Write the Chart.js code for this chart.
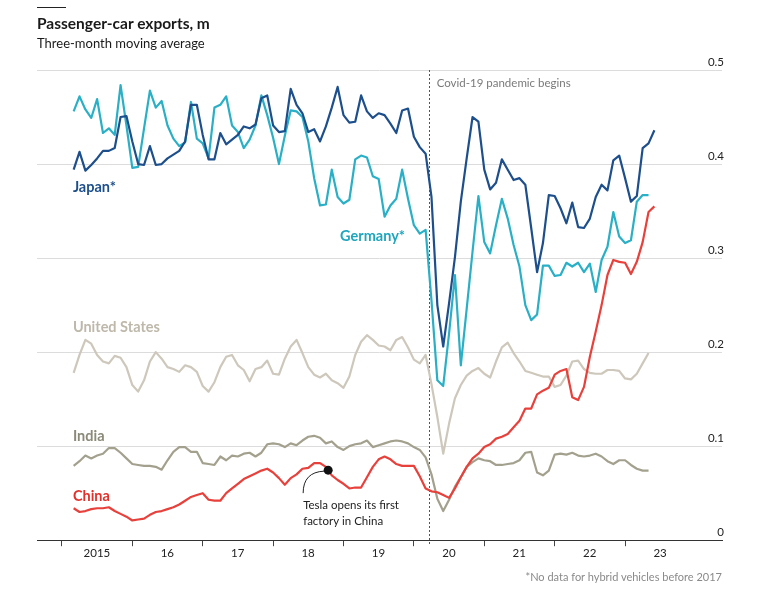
<!DOCTYPE html>
<html>
<head>
<meta charset="utf-8">
<script src="https://cdn.jsdelivr.net/npm/chart.js@4.4.0/dist/chart.umd.min.js"></script>
<style>
  body { margin: 0; background: #fff; }
  #wrap { position: relative; width: 765px; height: 599px; font-family: Lato, sans-serif; color: #1a1a1a; }
  #chart { position: absolute; left: 0; top: 0; }
  .rule { position: absolute; left: 37px; top: 7px; width: 29px; height: 1px; background: #222; }
  .title { position: absolute; left: 37px; top: 16px; font-size: 15.5px; font-weight: 700; line-height: 1; }
  .sub { position: absolute; left: 37px; top: 37px; font-size: 13px; line-height: 1; }
  .note { position: absolute; right: 43px; top: 571px; font-size: 11px; line-height: 1; color: #8a8a8a; }
</style>
</head>
<body>
<div id="wrap">
  <canvas id="chart" width="765" height="599" style="width:765px;height:599px"></canvas>
  <div class="rule"></div>
  <div class="title">Passenger-car exports, m</div>
  <div class="sub">Three-month moving average</div>
  <div class="note">*No data for hybrid vehicles before 2017</div>
</div>
<script>
// monthly points, first one is March 2015
const firstYear = 2015;
const firstMonth = 3;
const yearTicks = [2015, 2016, 2017, 2018, 2019, 2020, 2021, 2022, 2023];

const japan = [0.394,0.413,0.393,0.399,0.406,0.414,0.414,0.417,0.450,0.451,
  0.424,0.400,0.399,0.419,0.399,0.400,0.406,0.410,0.414,0.424,
  0.463,0.463,0.431,0.405,0.405,0.433,0.421,0.426,0.431,0.440,
  0.438,0.442,0.470,0.473,0.441,0.434,0.435,0.480,0.463,0.454,
  0.434,0.437,0.424,0.440,0.460,0.482,0.452,0.444,0.445,0.473,
  0.456,0.449,0.454,0.452,0.443,0.433,0.457,0.459,0.429,0.418,
  0.411,0.365,0.250,0.206,0.252,0.301,0.360,0.406,0.450,0.445,
  0.394,0.373,0.380,0.405,0.394,0.383,0.385,0.378,0.332,0.285,
  0.316,0.367,0.366,0.353,0.337,0.359,0.333,0.332,0.342,0.365,
  0.378,0.372,0.404,0.409,0.385,0.360,0.366,0.417,0.422,0.436];

const germany = [0.456,0.472,0.458,0.449,0.469,0.433,0.438,0.431,0.484,0.441,
  0.396,0.397,0.438,0.478,0.460,0.467,0.441,0.427,0.419,0.423,
  0.466,0.427,0.422,0.406,0.460,0.463,0.472,0.441,0.434,0.417,
  0.426,0.441,0.473,0.452,0.428,0.400,0.430,0.457,0.456,0.450,
  0.424,0.385,0.356,0.357,0.394,0.365,0.358,0.362,0.405,0.409,
  0.407,0.387,0.384,0.344,0.356,0.363,0.394,0.363,0.335,0.326,
  0.330,0.255,0.170,0.164,0.220,0.282,0.186,0.246,0.307,0.366,
  0.317,0.305,0.335,0.363,0.342,0.314,0.291,0.250,0.234,0.240,
  0.292,0.292,0.281,0.282,0.295,0.291,0.295,0.285,0.294,0.264,
  0.298,0.312,0.349,0.323,0.316,0.319,0.360,0.367,0.367];

const unitedStates = [0.178,0.197,0.213,0.209,0.197,0.190,0.188,0.196,0.194,0.184,
  0.165,0.158,0.170,0.190,0.200,0.193,0.184,0.182,0.179,0.186,
  0.184,0.179,0.164,0.158,0.168,0.184,0.195,0.197,0.186,0.181,
  0.169,0.182,0.184,0.191,0.177,0.176,0.193,0.206,0.213,0.199,
  0.184,0.176,0.173,0.177,0.170,0.167,0.162,0.174,0.197,0.211,
  0.218,0.213,0.207,0.206,0.202,0.213,0.216,0.205,0.192,0.188,
  0.197,0.166,0.131,0.092,0.124,0.151,0.165,0.175,0.180,0.183,
  0.177,0.173,0.190,0.205,0.210,0.199,0.190,0.180,0.178,0.176,
  0.174,0.174,0.163,0.165,0.175,0.190,0.191,0.182,0.178,0.177,
  0.177,0.181,0.181,0.180,0.172,0.171,0.177,0.188,0.199];

const india = [0.079,0.084,0.090,0.087,0.090,0.092,0.098,0.098,0.093,0.087,
  0.081,0.080,0.079,0.079,0.078,0.075,0.085,0.094,0.099,0.099,
  0.094,0.094,0.082,0.081,0.080,0.089,0.085,0.090,0.089,0.092,
  0.093,0.089,0.093,0.102,0.103,0.102,0.099,0.103,0.101,0.106,
  0.110,0.111,0.109,0.103,0.105,0.099,0.096,0.100,0.102,0.103,
  0.106,0.099,0.101,0.103,0.105,0.106,0.105,0.103,0.099,0.096,
  0.088,0.070,0.044,0.031,0.043,0.057,0.067,0.078,0.083,0.087,
  0.085,0.084,0.080,0.080,0.081,0.082,0.085,0.093,0.094,0.072,
  0.069,0.074,0.091,0.092,0.091,0.093,0.090,0.089,0.090,0.092,
  0.089,0.084,0.081,0.085,0.085,0.080,0.076,0.074,0.074];

const china = [0.034,0.030,0.031,0.033,0.034,0.034,0.035,0.031,0.028,0.025,
  0.021,0.022,0.023,0.027,0.030,0.031,0.033,0.035,0.038,0.042,
  0.046,0.048,0.050,0.043,0.042,0.042,0.050,0.055,0.060,0.065,
  0.068,0.071,0.074,0.076,0.072,0.066,0.059,0.066,0.070,0.076,
  0.077,0.082,0.082,0.078,0.069,0.064,0.060,0.055,0.056,0.056,
  0.067,0.078,0.086,0.089,0.086,0.081,0.079,0.079,0.079,0.068,
  0.055,0.052,0.051,0.048,0.045,0.055,0.067,0.078,0.087,0.092,
  0.099,0.102,0.108,0.110,0.113,0.120,0.127,0.140,0.140,0.155,
  0.159,0.162,0.176,0.180,0.182,0.152,0.149,0.163,0.195,0.222,
  0.250,0.282,0.298,0.296,0.295,0.283,0.296,0.317,0.349,0.355];

// events
const covidStart = 2020.21;
const teslaPoint = { x: 2018.782, y: 0.0745 };

const monthX = i => firstYear + (firstMonth - 1 + i) / 12;
const toPoints = vals => vals.map((v, i) => ({ x: monthX(i), y: v }));

const font = 'Lato, sans-serif';

function line(label, vals, color) {
  return {
    label: label,
    data: toPoints(vals),
    borderColor: color,
    borderWidth: 2.2,
    pointRadius: 0,
    borderJoinStyle: 'round',
    tension: 0,
    fill: false
  };
}

// text labels, placed in data units
const seriesLabels = [
  { text: 'Japan*', x: 2015.156, y: 0.3755, color: '#1d4f8c' },
  { text: 'Germany*', x: 2018.952, y: 0.3234, color: '#1ea6bf' },
  { text: 'United States', x: 2015.156, y: 0.2266, color: '#bdb8aa' },
  { text: 'India', x: 2015.156, y: 0.1106, color: '#8b8978' },
  { text: 'China', x: 2015.156, y: 0.0468, color: '#e3302b' }
];

const notes = {
  id: 'notes',
  beforeDatasetsDraw(chart) {
    const { ctx, chartArea, scales } = chart;
    const cx = Math.round(scales.x.getPixelForValue(covidStart)) + 0.5;
    ctx.save();
    ctx.strokeStyle = '#555';
    ctx.lineWidth = 1;
    ctx.setLineDash([2, 2]);
    ctx.beginPath();
    ctx.moveTo(cx, chartArea.top);
    ctx.lineTo(cx, chartArea.bottom + 5);
    ctx.stroke();
    ctx.restore();
  },
  afterDatasetsDraw(chart) {
    const { ctx, scales } = chart;
    const px = v => scales.x.getPixelForValue(v);
    const py = v => scales.y.getPixelForValue(v);
    ctx.save();
    ctx.textBaseline = 'middle';
    ctx.textAlign = 'left';
    ctx.font = '700 14.5px ' + font;
    seriesLabels.forEach(l => {
      ctx.fillStyle = l.color;
      ctx.fillText(l.text, px(l.x), py(l.y));
    });

    ctx.font = '11.5px ' + font;
    ctx.fillStyle = '#7a7a7a';
    ctx.fillText('Covid-19 pandemic begins', px(covidStart) + 8, py(0.4862));

    // Tesla leader line
    const dx = px(teslaPoint.x), dy = py(teslaPoint.y);
    ctx.strokeStyle = '#222';
    ctx.lineWidth = 1;
    ctx.beginPath();
    ctx.moveTo(dx - 4, dy + 1);
    ctx.quadraticCurveTo(dx - 25, dy + 2, dx - 25, dy + 23);
    ctx.stroke();

    ctx.fillStyle = '#222';
    ctx.fillText('Tesla opens its first', dx - 25, dy + 35);
    ctx.fillText('factory in China', dx - 25, dy + 51);
    ctx.restore();
  }
};

new Chart(document.getElementById('chart'), {
  type: 'line',
  data: {
    datasets: [
      {
        label: 'Tesla',
        data: [teslaPoint],
        showLine: false,
        pointRadius: 4.5,
        pointBackgroundColor: '#111',
        pointBorderColor: '#111',
        pointBorderWidth: 0
      },
      line('China', china, '#e8403b'),
      line('Japan', japan, '#1d4f8c'),
      line('Germany', germany, '#2ab0c6'),
      line('India', india, '#a3a18e'),
      line('United States', unitedStates, '#cdc8bb')
    ]
  },
  options: {
    responsive: false,
    animation: false,
    layout: { padding: { left: 37, right: 39, top: 70, bottom: 39 } },
    plugins: { legend: { display: false }, tooltip: { enabled: false } },
    scales: {
      x: {
        type: 'linear',
        min: 2014.646,
        max: 2024.377,
        afterBuildTicks: s => { s.ticks = yearTicks.map(v => ({ value: v })); },
        ticks: {
          callback: v => v === 2015 ? '2015' : String(v).slice(2),
          labelOffset: 35,
          padding: 0,
          maxRotation: 0,
          autoSkip: false,
          color: '#222',
          font: { family: font, size: 11.5 }
        },
        grid: { drawOnChartArea: false, drawTicks: true, tickLength: 6, tickColor: '#444' },
        border: { color: '#333', width: 1 }
      },
      y: {
        position: 'right',
        min: 0,
        max: 0.5,
        ticks: {
          stepSize: 0.1,
          mirror: true,
          padding: 2,
          labelOffset: -8,
          color: '#222',
          font: { family: font, size: 11.5 },
          callback: v => v === 0 ? '0' : v.toFixed(1)
        },
        grid: { color: '#dcdcdc', drawTicks: false },
        border: { display: false }
      }
    }
  },
  plugins: [notes]
});
</script>
</body>
</html>
